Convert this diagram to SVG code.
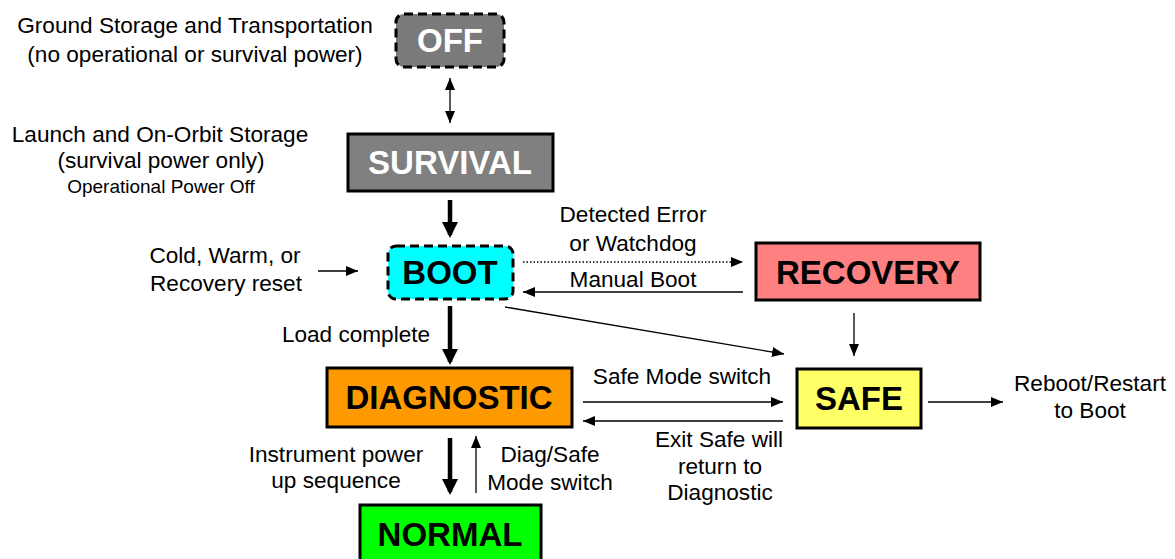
<svg xmlns="http://www.w3.org/2000/svg" width="1175" height="559" viewBox="0 0 1175 559">
<defs>
<style>
.lbl{font-family:"Liberation Sans",Arial,sans-serif;font-size:22.6px;fill:#000;text-anchor:middle}
.sm{font-size:19px}
.nt{font-family:"Liberation Sans",Arial,sans-serif;font-size:33px;font-weight:bold;text-anchor:middle}
.box{stroke:#000;stroke-width:3}
.dash{stroke-dasharray:9 5}
.thin{stroke:#000;stroke-width:1.3;fill:none}
.thick{stroke:#000;stroke-width:4.5;fill:none}
</style>
<marker id="ah" viewBox="0 0 12 10" refX="12" refY="5" markerWidth="12" markerHeight="10" markerUnits="userSpaceOnUse" orient="auto-start-reverse"><path d="M0,0 L12,5 L0,10 z" fill="#000"/></marker>
<marker id="ahb" viewBox="0 0 16 16" refX="13" refY="8" markerWidth="16" markerHeight="16" markerUnits="userSpaceOnUse" orient="auto"><path d="M0,0 L16,8 L0,16 z" fill="#000"/></marker>
</defs>
<rect width="1175" height="559" fill="#fff"/>

<g id="node-off">
<rect class="box dash" x="396" y="14" width="108" height="53" rx="8" fill="#7a7a7a"/>
<text class="nt" x="450" y="52" fill="#fff">OFF</text>
</g>
<g id="node-survival">
<rect class="box" x="348" y="134" width="205" height="57" fill="#808080"/>
<text class="nt" x="450" y="174" fill="#fff">SURVIVAL</text>
</g>
<g id="node-boot">
<rect class="box dash" x="388" y="246" width="125" height="53" rx="8" fill="#00ffff"/>
<text class="nt" x="450" y="284" fill="#000">BOOT</text>
</g>
<g id="node-recovery">
<rect class="box" x="756" y="243" width="224" height="57" fill="#ff8080"/>
<text class="nt" x="868" y="284" fill="#000">RECOVERY</text>
</g>
<g id="node-diagnostic">
<rect class="box" x="327" y="368" width="245" height="59" fill="#ff9900"/>
<text class="nt" x="449" y="409" fill="#000">DIAGNOSTIC</text>
</g>
<g id="node-safe">
<rect class="box" x="797" y="369" width="124" height="59" fill="#ffff66"/>
<text class="nt" x="859" y="410" fill="#000">SAFE</text>
</g>
<g id="node-normal">
<rect class="box" x="360" y="505" width="181" height="70" fill="#00ff00"/>
<text class="nt" x="450" y="546" fill="#000">NORMAL</text>
</g>

<g id="connectors">
<line class="thin" x1="450" y1="78" x2="450" y2="123" marker-start="url(#ah)" marker-end="url(#ah)"/>
<line class="thick" x1="450" y1="200" x2="450" y2="235" marker-end="url(#ahb)"/>
<line class="thin" x1="318" y1="271" x2="358" y2="271" marker-end="url(#ah)"/>
<line class="thin" x1="523" y1="262" x2="743" y2="262" stroke-dasharray="1.5 2" marker-end="url(#ah)"/>
<line class="thin" x1="743" y1="292" x2="523" y2="292" marker-end="url(#ah)"/>
<line class="thin" x1="505" y1="307" x2="784" y2="354" marker-end="url(#ah)"/>
<line class="thin" x1="854" y1="313" x2="854" y2="356" marker-end="url(#ah)"/>
<line class="thick" x1="450" y1="306" x2="450" y2="362" marker-end="url(#ahb)"/>
<line class="thin" x1="583" y1="402" x2="783" y2="402" marker-end="url(#ah)"/>
<line class="thin" x1="783" y1="421" x2="583" y2="421" marker-end="url(#ah)"/>
<line class="thin" x1="928" y1="402" x2="1003" y2="402" marker-end="url(#ah)"/>
<line class="thick" x1="450" y1="438" x2="450" y2="492" marker-end="url(#ahb)"/>
<line class="thin" x1="476" y1="493" x2="476" y2="436" marker-end="url(#ah)"/>
</g>

<g id="labels">
<text class="lbl" x="195" y="33">Ground Storage and Transportation</text>
<text class="lbl" x="195" y="62">(no operational or survival power)</text>
<text class="lbl" x="160" y="142">Launch and On-Orbit Storage</text>
<text class="lbl" x="161" y="168">(survival power only)</text>
<text class="lbl sm" x="161" y="193">Operational Power Off</text>
<text class="lbl" x="225" y="263">Cold, Warm, or</text>
<text class="lbl" x="226" y="291">Recovery reset</text>
<text class="lbl" x="633" y="222">Detected Error</text>
<text class="lbl" x="633" y="251">or Watchdog</text>
<text class="lbl" x="633" y="287">Manual Boot</text>
<text class="lbl" x="356" y="342">Load complete</text>
<text class="lbl" x="682" y="384">Safe Mode switch</text>
<text class="lbl" x="1090" y="391">Reboot/Restart</text>
<text class="lbl" x="1090" y="418">to Boot</text>
<text class="lbl" x="719" y="447">Exit Safe will</text>
<text class="lbl" x="720" y="474">return to</text>
<text class="lbl" x="720" y="500">Diagnostic</text>
<text class="lbl" x="336" y="462">Instrument power</text>
<text class="lbl" x="336" y="488">up sequence</text>
<text class="lbl" x="550" y="462">Diag/Safe</text>
<text class="lbl" x="550" y="490">Mode switch</text>
</g>
</svg>
